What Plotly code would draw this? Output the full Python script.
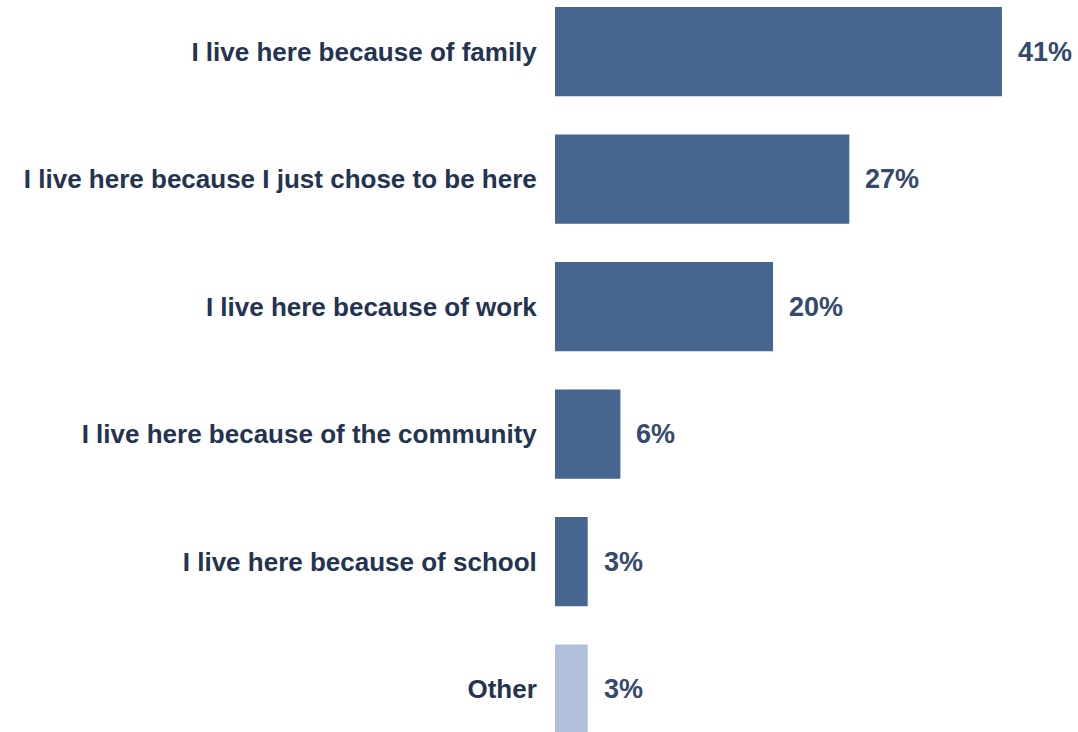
import plotly.graph_objects as go

# Reasons for living here, share of respondents (%)
categories = [
    "I live here because of family",
    "I live here because I just chose to be here",
    "I live here because of work",
    "I live here because of the community",
    "I live here because of school",
    "Other",
]
values = [41, 27, 20, 6, 3, 3]
value_labels = ["41%", "27%", "20%", "6%", "3%", "3%"]

main_color = "#46658f"
other_color = "#b0c0dc"
colors = [other_color if c == "Other" else main_color for c in categories]

font_family = "Liberation Sans Narrow, Arial Narrow, Liberation Sans, Arial, sans-serif"

fig = go.Figure(
    go.Bar(
        y=categories,
        x=values,
        orientation="h",
        marker=dict(color=colors, line=dict(width=0)),
        width=0.7,
        hoverinfo="skip",
    )
)

# Value labels just past the end of each bar
for cat, val, lab in zip(categories, values, value_labels):
    fig.add_annotation(
        x=val,
        y=cat,
        text=lab,
        showarrow=False,
        xanchor="left",
        yanchor="middle",
        xshift=14,
        font=dict(family=font_family, size=27, color="#34496c", weight="bold"),
    )

fig.update_layout(
    width=1078,
    height=732,
    margin=dict(l=555, r=0, t=0, b=0),
    paper_bgcolor="white",
    plot_bgcolor="white",
    showlegend=False,
    xaxis=dict(
        range=[0, 47.98],
        visible=False,
        showgrid=False,
        zeroline=False,
    ),
    yaxis=dict(
        categoryorder="array",
        categoryarray=categories,
        range=[5.337, -0.404],
        showgrid=False,
        zeroline=False,
        showline=False,
        ticks="outside",
        ticklen=12,
        tickcolor="rgba(0,0,0,0)",
        tickfont=dict(family=font_family, size=26, color="#243350", weight="bold"),
    ),
)

fig.write_html("out.html")
